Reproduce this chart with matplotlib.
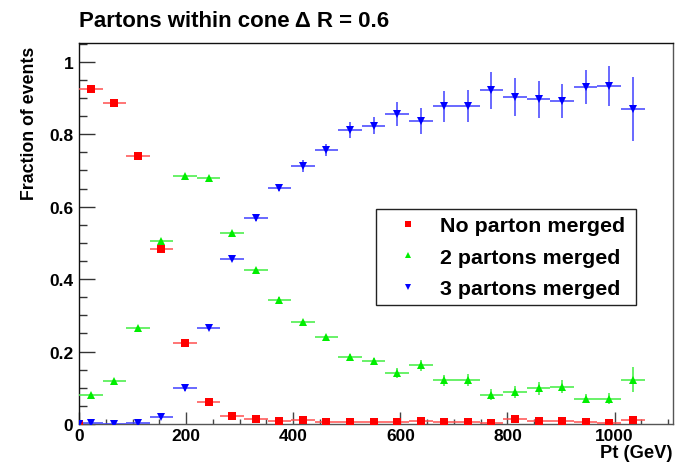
import matplotlib
matplotlib.use("Agg")
import matplotlib.pyplot as plt
from matplotlib.ticker import MultipleLocator
from matplotlib.lines import Line2D

plt.rcParams['font.family'] = ['Liberation Sans', 'DejaVu Sans']
plt.rcParams['font.weight'] = 'bold'

# bin centres (GeV) and half-width
pt = [0, 22, 66, 110, 154, 198, 242, 286, 330, 374, 418, 462, 506, 550, 594,
      638, 682, 726, 770, 814, 858, 902, 946, 990, 1034]
pt_halfwidth = [0] + [22] * 24

no_merge = [0, 0.925, 0.886, 0.740, 0.483, 0.224, 0.060, 0.021, 0.013, 0.008,
            0.011, 0.005, 0.005, 0.005, 0.005, 0.009, 0.005, 0.005, 0.003,
            0.013, 0.008, 0.007, 0.005, 0.003, 0.011]
no_merge_err = [0, 0.004, 0.004, 0.004, 0.004, 0.004, 0.003, 0.002, 0.002,
                0.002, 0.002, 0.002, 0.002, 0.002, 0.002, 0.003, 0.002, 0.002,
                0.002, 0.004, 0.003, 0.003, 0.003, 0.002, 0.004]

two_merge = [0, 0.079, 0.118, 0.264, 0.504, 0.684, 0.678, 0.526, 0.425,
             0.343, 0.281, 0.239, 0.186, 0.174, 0.140, 0.162, 0.121, 0.122,
             0.081, 0.088, 0.099, 0.103, 0.070, 0.070, 0.122]
two_merge_err = [0, 0.004, 0.005, 0.006, 0.007, 0.007, 0.007, 0.007, 0.007,
                 0.007, 0.007, 0.007, 0.007, 0.008, 0.014, 0.016, 0.015,
                 0.016, 0.016, 0.017, 0.018, 0.018, 0.013, 0.015, 0.034]

three_merge = [0, 0.002, 0.001, 0.002, 0.020, 0.098, 0.266, 0.455, 0.568,
               0.652, 0.713, 0.756, 0.812, 0.824, 0.857, 0.836, 0.877, 0.877,
               0.921, 0.902, 0.896, 0.893, 0.930, 0.933, 0.869]
three_merge_err = [0, 0.001, 0.001, 0.001, 0.004, 0.006, 0.006, 0.006, 0.007,
                   0.009, 0.016, 0.017, 0.022, 0.024, 0.033, 0.036, 0.042,
                   0.044, 0.051, 0.052, 0.051, 0.047, 0.047, 0.054, 0.089]

labels = ["No parton merged", "2 partons merged", "3 partons merged"]

fig = plt.figure(figsize=(6.8, 4.64), dpi=100)
ax = fig.add_axes([0.1162, 0.0841, 0.8735, 0.8204])

series = [
    (no_merge, no_merge_err, 's', '#ff0000', '#ff5050', 5.4),
    (two_merge, two_merge_err, '^', '#00ee00', '#40ee40', 5.2),
    (three_merge, three_merge_err, 'v', '#0000ff', '#4040ff', 5.4),
]
for vals, errs, mk, col, ecol, ms in series:
    ax.errorbar(pt, vals, xerr=pt_halfwidth, yerr=errs, fmt=mk, color=col,
                ecolor=ecol, elinewidth=1.1, capsize=1.8, capthick=1.1,
                markersize=ms, markeredgewidth=0, zorder=3)

ax.set_xlim(0, 1109)
ax.set_ylim(0, 1.051)
ax.xaxis.set_major_locator(MultipleLocator(200))
ax.xaxis.set_minor_locator(MultipleLocator(50))
ax.yaxis.set_major_locator(MultipleLocator(0.2))
ax.yaxis.set_minor_locator(MultipleLocator(0.05))
ax.yaxis.set_major_formatter(plt.FuncFormatter(lambda v, p: ('%g' % round(v, 2))))

ax.tick_params(axis='y', which='major', direction='in', length=11.5, width=1.0,
               color='#333333', labelsize=12.5, pad=4, right=False)
ax.tick_params(axis='y', which='minor', direction='in', length=5.8, width=1.0,
               color='#333333', right=False)
ax.tick_params(axis='x', which='major', direction='in', length=8.6, width=1.0,
               color='#444444', labelsize=12.5, pad=3, top=False)
ax.tick_params(axis='x', which='minor', direction='in', length=3.6, width=1.0,
               color='#444444', top=False)
for lab in ax.get_xticklabels() + ax.get_yticklabels():
    lab.set_fontweight('bold')

for side in ['left', 'top']:
    ax.spines[side].set_color('#111111')
for side in ['right', 'bottom']:
    ax.spines[side].set_color('#555555')
for s in ax.spines.values():
    s.set_linewidth(1.0)

handles = [Line2D([], [], ls='', marker=m, color=c, markersize=ms, markeredgewidth=0)
           for _, _, m, c, _, ms in series]
leg = ax.legend(handles, labels, loc='upper left',
                bbox_to_anchor=(0.5, 0.3134, 0.4377, 0.2514), mode='expand',
                borderaxespad=0, borderpad=0.34, labelspacing=0.58,
                handlelength=2.3, handletextpad=0.36, markerscale=0.8,
                fancybox=False, framealpha=1, edgecolor='#222222',
                prop={'size': 15.4, 'weight': 'bold'})
leg.get_frame().set_linewidth(1.0)

fig.text(79 / 680, 1 - 26.7 / 464, "Partons within cone \u0394 R = 0.6",
         fontsize=16, fontweight='bold', ha='left', va='baseline')
fig.text(29.5 / 680, 1 - 46.7 / 464, "Fraction of events", rotation=90,
         fontsize=12.8, fontweight='bold', ha='center', va='top')
fig.text(672 / 680, 1 - 458.5 / 464, "Pt (GeV)", fontsize=13.2, fontweight='bold',
         ha='right', va='baseline')

fig.savefig("out.png", dpi=100)
